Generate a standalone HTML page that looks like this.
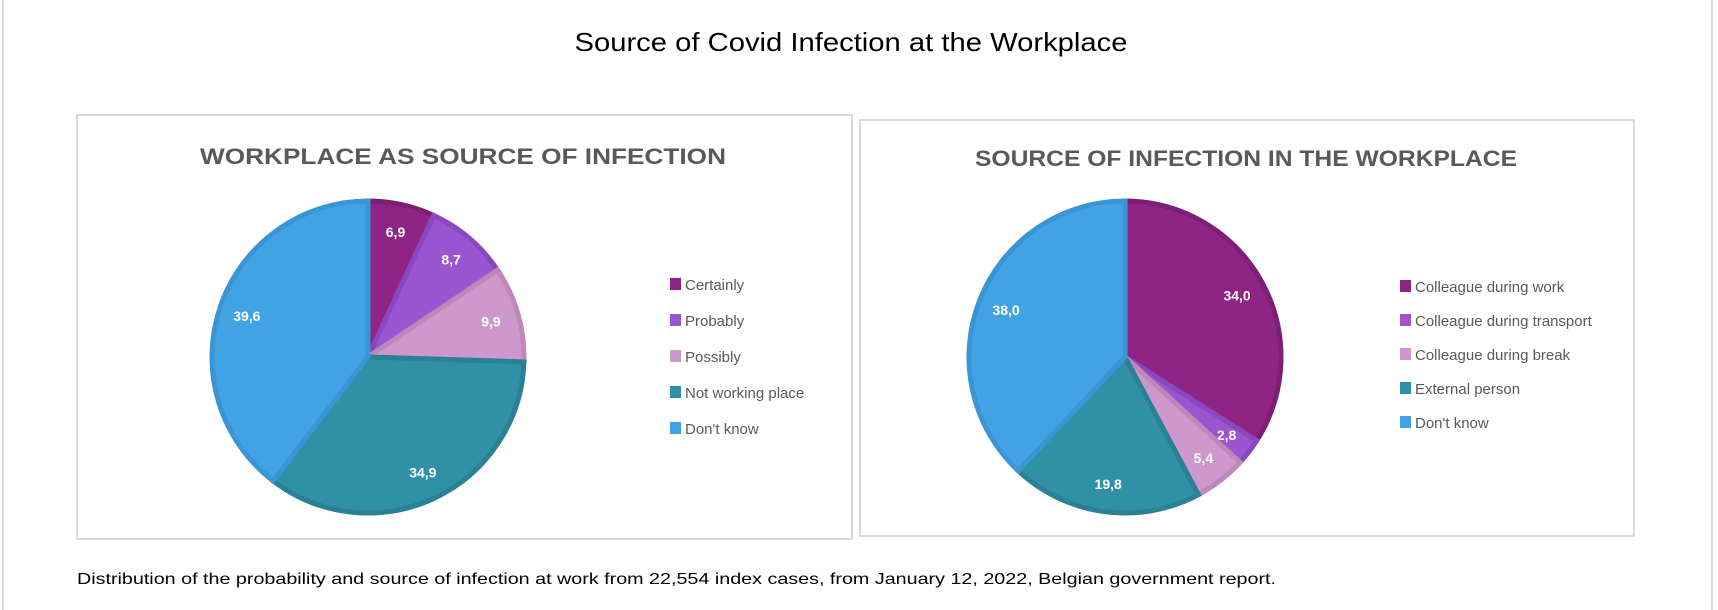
<!DOCTYPE html>
<html><head><meta charset="utf-8"><style>
html,body{margin:0;padding:0;background:#fff;}
svg{display:block;font-family:"Liberation Sans",sans-serif;}
</style></head><body>
<svg id="c" width="1718" height="610" viewBox="0 0 1718 610">
<line x1="3" y1="0" x2="3" y2="610" stroke="#d9d9d9" stroke-width="2"/>
<line x1="1712" y1="0" x2="1712" y2="610" stroke="#d9d9d9" stroke-width="2"/>
<text x="851" y="51" text-anchor="middle" font-size="26" fill="#000" textLength="553" lengthAdjust="spacingAndGlyphs">Source of Covid Infection at the Workplace</text>
<rect x="77" y="115" width="775" height="424" fill="#fff" stroke="#d9d9d9" stroke-width="2"/>
<rect x="860" y="120" width="774" height="416" fill="#fff" stroke="#d9d9d9" stroke-width="2"/>
<text x="463" y="164" text-anchor="middle" font-size="22" font-weight="bold" fill="#595959" textLength="526" lengthAdjust="spacingAndGlyphs">WORKPLACE AS SOURCE OF INFECTION</text>
<text x="1246" y="166" text-anchor="middle" font-size="22" font-weight="bold" fill="#595959" textLength="542" lengthAdjust="spacingAndGlyphs">SOURCE OF INFECTION IN THE WORKPLACE</text>
<text x="77" y="584" font-size="16" fill="#000" textLength="1199" lengthAdjust="spacingAndGlyphs">Distribution  of the probability and source of infection at work from 22,554 index cases, from January 12, 2022, Belgian government report.</text>
<g id="g1"></g><g id="g2"></g>
</svg>
<script>
const leftCategories = ["Certainly","Probably","Possibly","Not working place","Don't know"];
const leftValues = [6.9, 8.7, 9.9, 34.9, 39.6];
const leftLabels = ["6,9","8,7","9,9","34,9","39,6"];
const rightCategories = ["Colleague during work","Colleague during transport","Colleague during break","External person","Don't know"];
const rightValues = [34.0, 2.8, 5.4, 19.8, 38.0];
const rightLabels = ["34,0","2,8","5,4","19,8","38,0"];
const fills = ["#8e2584","#9b55d0","#cf98cc","#3091a6","#41a3e4"];
const strokes = ["#7d1f74","#8a47bf","#bf88bb","#2a8193","#3b95d4"];
const NS = "http://www.w3.org/2000/svg";
function mk(tag, attrs, parent){const e=document.createElementNS(NS,tag);for(const k in attrs)e.setAttribute(k,attrs[k]);parent.appendChild(e);return e;}
function pie(gid, cx, cy, r, vals, labels, cats, lx, ly0, dy, prefix){
  const g=document.getElementById(gid);
  const total=vals.reduce((a,b)=>a+b,0);
  let a0=0;
  vals.forEach((v,i)=>{
    const a1=a0+v/total*2*Math.PI;
    const x0=cx+r*Math.sin(a0), y0=cy-r*Math.cos(a0);
    const x1=cx+r*Math.sin(a1), y1=cy-r*Math.cos(a1);
    const large=(a1-a0)>Math.PI?1:0;
    const p=mk('path',{d:`M${cx},${cy} L${x0},${y0} A${r},${r} 0 ${large} 1 ${x1},${y1} Z`,fill:fills[i],stroke:strokes[i],'stroke-width':5,'stroke-linejoin':'miter'},g);
    
    
    const am=(a0+a1)/2, lr=r*0.82;
    const t=mk('text',{x:cx+lr*Math.sin(am),y:cy-lr*Math.cos(am)+5,'text-anchor':'middle','font-size':14,'font-weight':'bold',fill:'#fff'},g);
    t.textContent=labels[i];
    
    
    const s=mk('rect',{x:lx,y:ly0+i*dy-6,width:11,height:12,fill:fills[i]},g);
    
    
    const lt=mk('text',{x:lx+15,y:ly0+i*dy+6,'font-size':15,fill:'#595959'},g);
    lt.textContent=cats[i];
    
    
    a0=a1;
  });
}
pie('g1', 368, 357, 156, leftValues, leftLabels, leftCategories, 670, 284, 36, 'left');
pie('g2', 1125, 357, 156, rightValues, rightLabels, rightCategories, 1400, 286, 34, 'right');
</script>
</body></html>
